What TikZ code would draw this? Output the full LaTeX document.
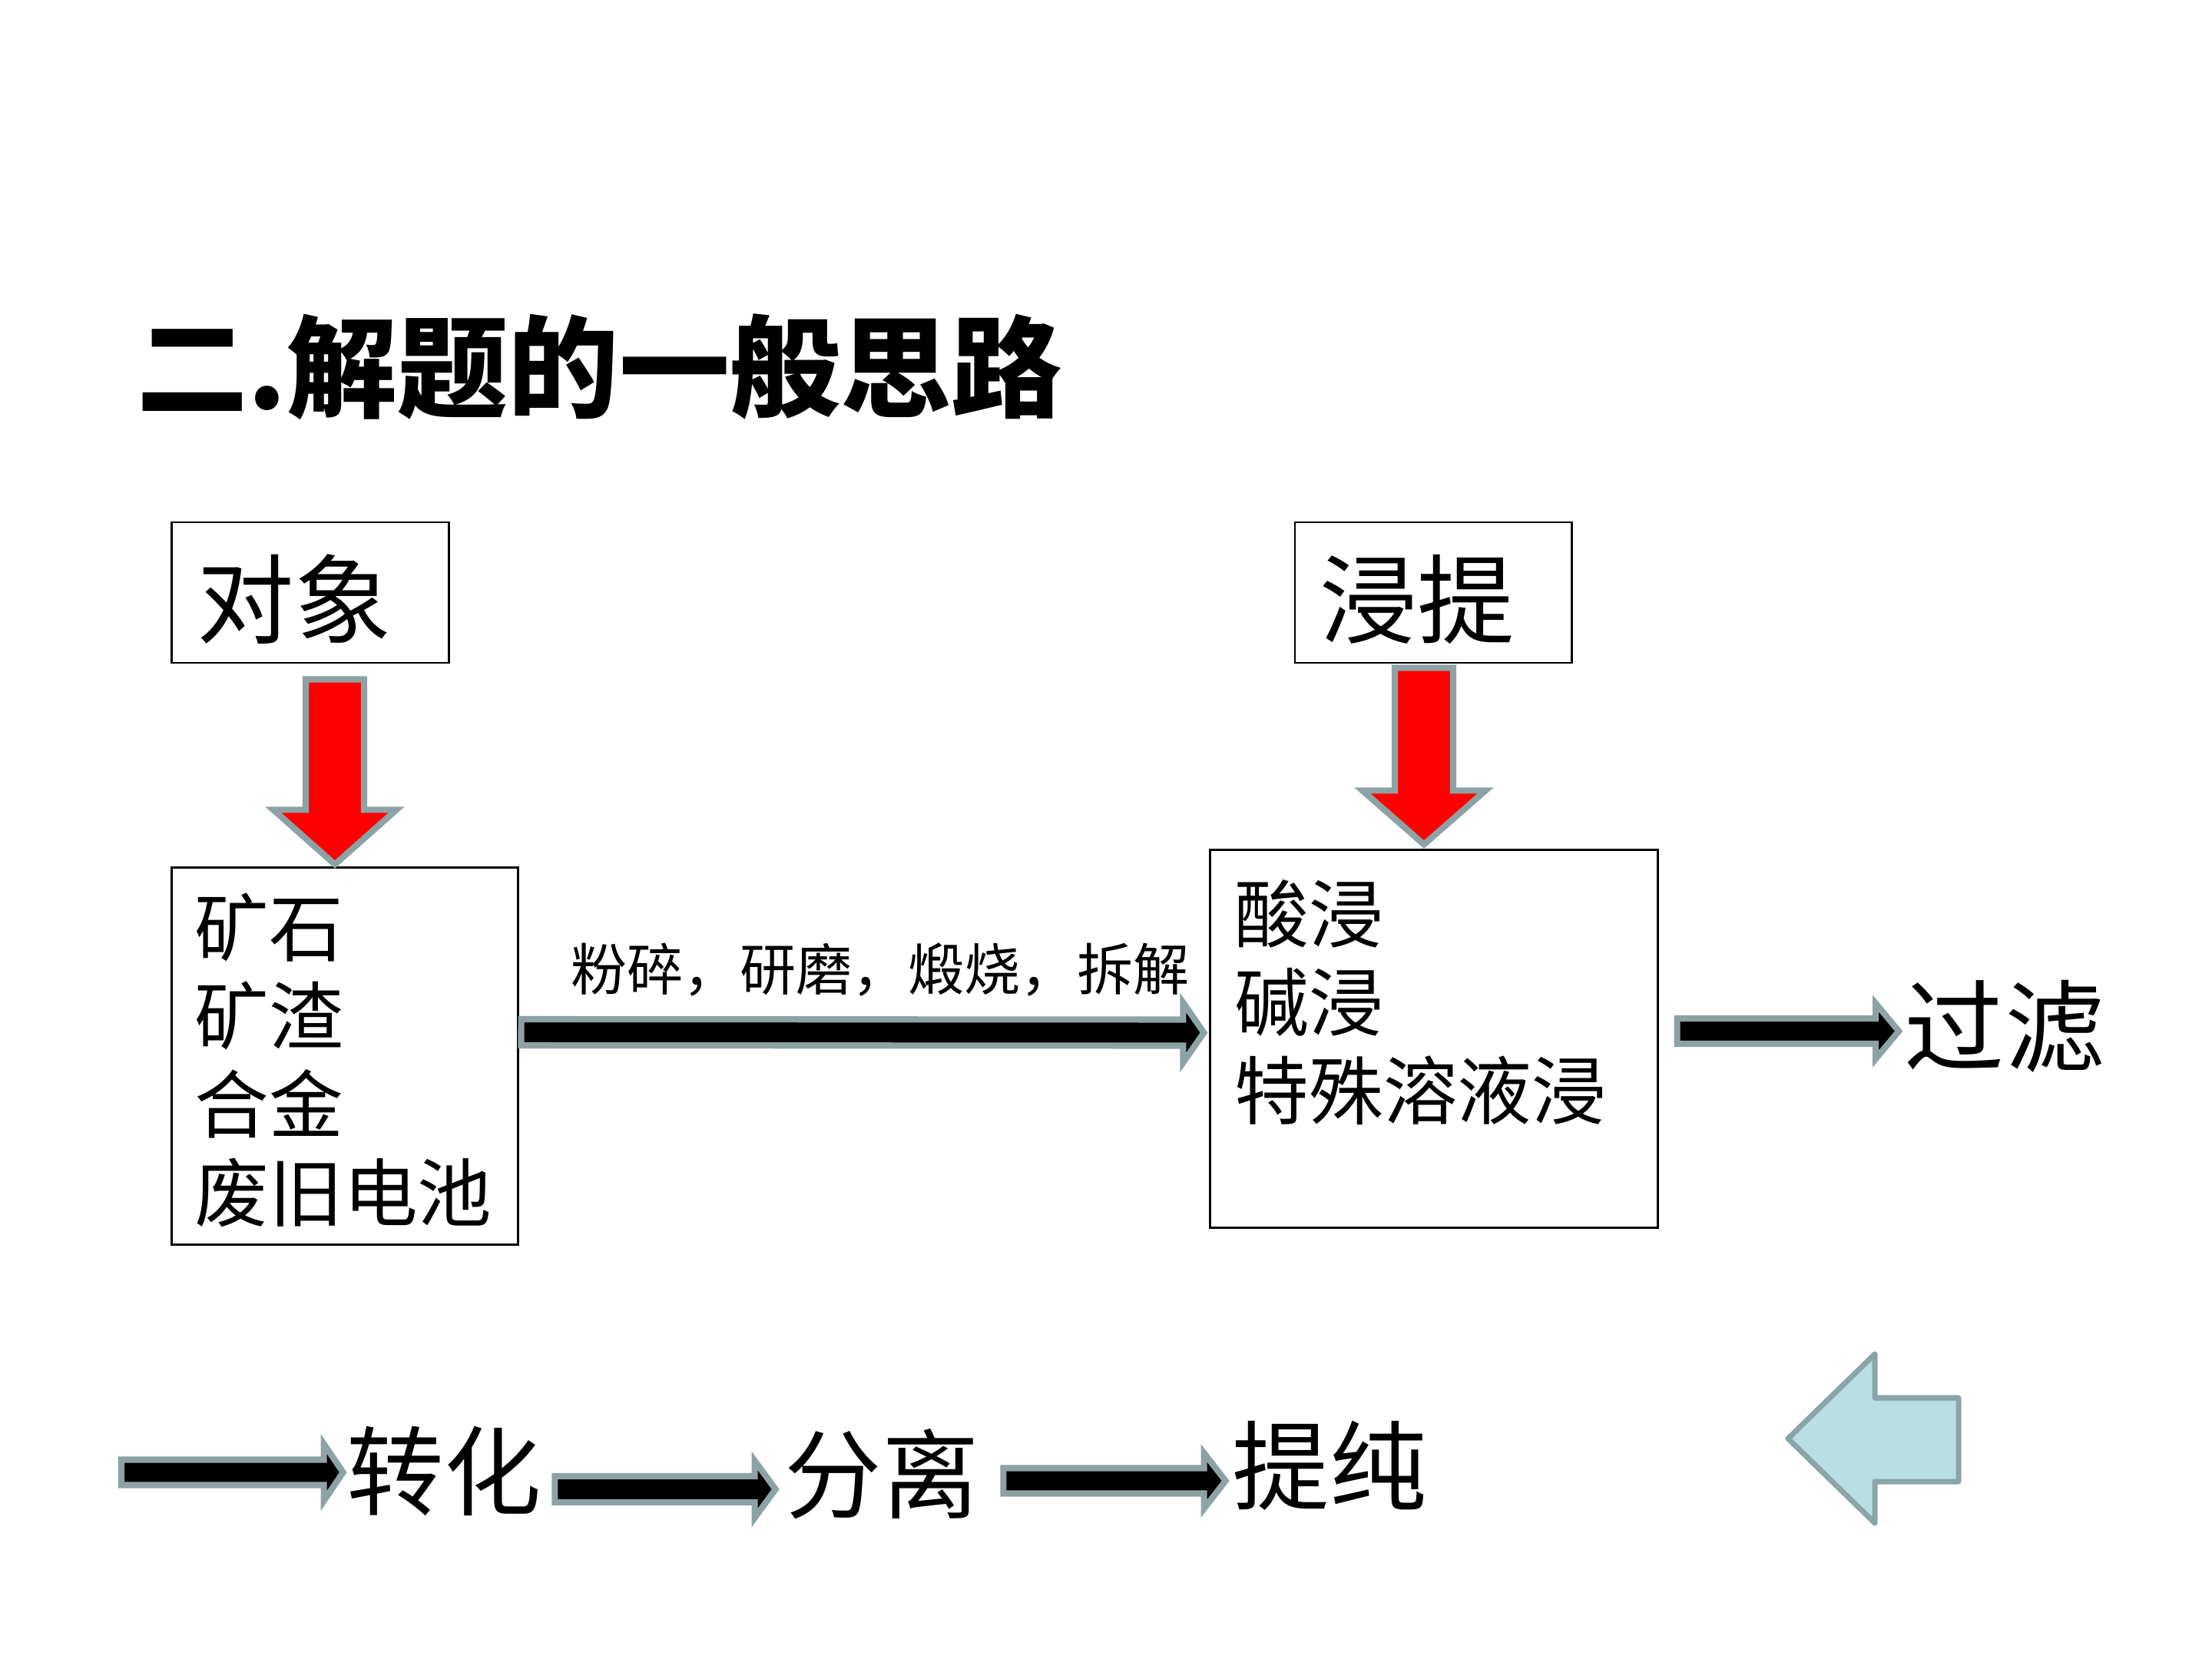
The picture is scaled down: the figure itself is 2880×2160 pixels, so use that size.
\documentclass[tikz,border=0pt]{standalone}
\usepackage{fontspec}
\newfontfamily\cjk{Noto Sans CJK SC}
\usetikzlibrary{calc, positioning}
\definecolor{arrowgray}{HTML}{8DA2A5}
\definecolor{arrowred}{HTML}{FF0000}
\definecolor{backblue}{HTML}{B9DFE3}
\definecolor{backgray}{HTML}{8AA4A7}

% block arrow: style, from, to, half shaft, half head, head length
\newcommand{\fatarrow}[6]{%
  \coordinate (fa-h) at ($(#3)!#6!(#2)$);
  \draw[#1] ($(#2)!#4!90:(#3)$) -- ($(fa-h)!#4!90:(#3)$) -- ($(fa-h)!#5!90:(#3)$)
    -- (#3) -- ($(fa-h)!#5!-90:(#3)$) -- ($(fa-h)!#4!-90:(#3)$)
    -- ($(#2)!#4!-90:(#3)$) -- cycle;
}

\tikzset{
  headbox/.style={draw, line width=0.8pt, minimum width=3.6cm, minimum height=1.83cm,
    text width=2.94cm, inner xsep=0.33cm, align=left, text height=36pt, text depth=3.6pt,
    font=\cjk\fontsize{36}{40}\selectfont},
  listbox/.style={draw, line width=0.8pt, inner sep=0pt},
  listtext/.style={inner sep=0pt, align=left, anchor=north west,
    font=\cjk\fontsize{27.5}{32.7}\selectfont},
  steptext/.style={inner sep=0pt, font=\cjk\fontsize{36}{40}\selectfont},
  blackarrow/.style={fill=black, draw=arrowgray, line width=2.3pt, line join=miter},
  redarrow/.style={fill=arrowred, draw=arrowgray, line width=2.3pt, line join=miter}
}

\begin{document}
\begin{tikzpicture}[x=0.01cm, y=-0.01cm]
  \useasboundingbox (0,0) rectangle (2880,2160);

  % Title
  \node[font=\cjk\bfseries\fontsize{41}{48}\selectfont, anchor=west, inner sep=0pt]
    (title) at (178,478) {二.解题的一般思路};

  % Top boxes
  \node[headbox] (obj) at (404,771.5) {对象};
  \node[headbox] (ext) at (1866,771.5) {浸提};

  % Lower boxes
  \node[listbox, minimum width=4.5cm, minimum height=4.9cm] (ore) at (449,1375) {};
  \node[listtext] (oretext) at (253,1162) {矿石\\矿渣\\合金\\废旧电池};
  \node[listbox, minimum width=5.82cm, minimum height=4.91cm] (leach) at (1867,1352.5) {};
  \node[listtext] (leachtext) at (1607,1145) {酸浸\\碱浸\\特殊溶液浸};

  % Red arrows
  \coordinate (r1a) at ($(obj.south)+(32,20)$);
  \coordinate (r1b) at ($(ore.north)+(-13,-3)$);
  \fatarrow{redarrow}{r1a}{r1b}{0.38cm}{0.8cm}{0.71cm}
  \coordinate (r2a) at ($(ext.south)+(-12,5)$);
  \coordinate (r2b) at ($(leach.north)+(-13,-6)$);
  \fatarrow{redarrow}{r2a}{r2b}{0.38cm}{0.8cm}{0.7cm}

  % Pretreatment
  \node[font=\cjk\fontsize{20.8}{24}\selectfont, inner sep=0pt] (pre) at (1146,1262)
    {粉碎，研磨，煅烧，拆解};
  \coordinate (m1a) at ($(ore.east)+(3,-31)$);
  \coordinate (m1b) at ($(leach.west)+(-7,-8)$);
  \fatarrow{blackarrow}{m1a}{m1b}{0.17cm}{0.39cm}{0.27cm}

  % Filtering
  \node[font=\cjk\fontsize{37}{40}\selectfont, inner sep=0pt] (filter) at (2610,1336) {过滤};
  \coordinate (f1a) at ($(leach.east)+(24,-10)$);
  \coordinate (f1b) at ($(filter.west |- f1a)+(-7,0)$);
  \fatarrow{blackarrow}{f1a}{f1b}{0.165cm}{0.36cm}{0.3cm}

  % Bottom chain
  \node[steptext] (conv) at (578,1915) {转化};
  \node[steptext] (sep) at (1148,1919) {分离};
  \node[steptext] (pure) at (1731,1908) {提纯};
  \coordinate (bAa) at (158,1917);
  \coordinate (bAb) at ($(conv.west |- bAa)+(-4,0)$);
  \fatarrow{blackarrow}{bAa}{bAb}{0.165cm}{0.37cm}{0.25cm}
  \coordinate (bBa) at ($(conv.east)+(17,24)$);
  \coordinate (bBb) at ($(sep.west |- bBa)+(-11,0)$);
  \fatarrow{blackarrow}{bBa}{bBb}{0.17cm}{0.37cm}{0.27cm}
  \coordinate (bCa) at ($(sep.east)+(31,9)$);
  \coordinate (bCb) at ($(pure.west |- bCa)+(-8,0)$);
  \fatarrow{blackarrow}{bCa}{bCb}{0.165cm}{0.36cm}{0.28cm}

  % Back button
  \draw[fill=backblue, draw=backgray, line width=2pt, line join=round]
    (2328,1873) -- (2441,1763) -- (2441,1820) -- (2550,1820)
    -- (2550,1929) -- (2441,1929) -- (2441,1983) -- cycle;
\end{tikzpicture}
\end{document}
